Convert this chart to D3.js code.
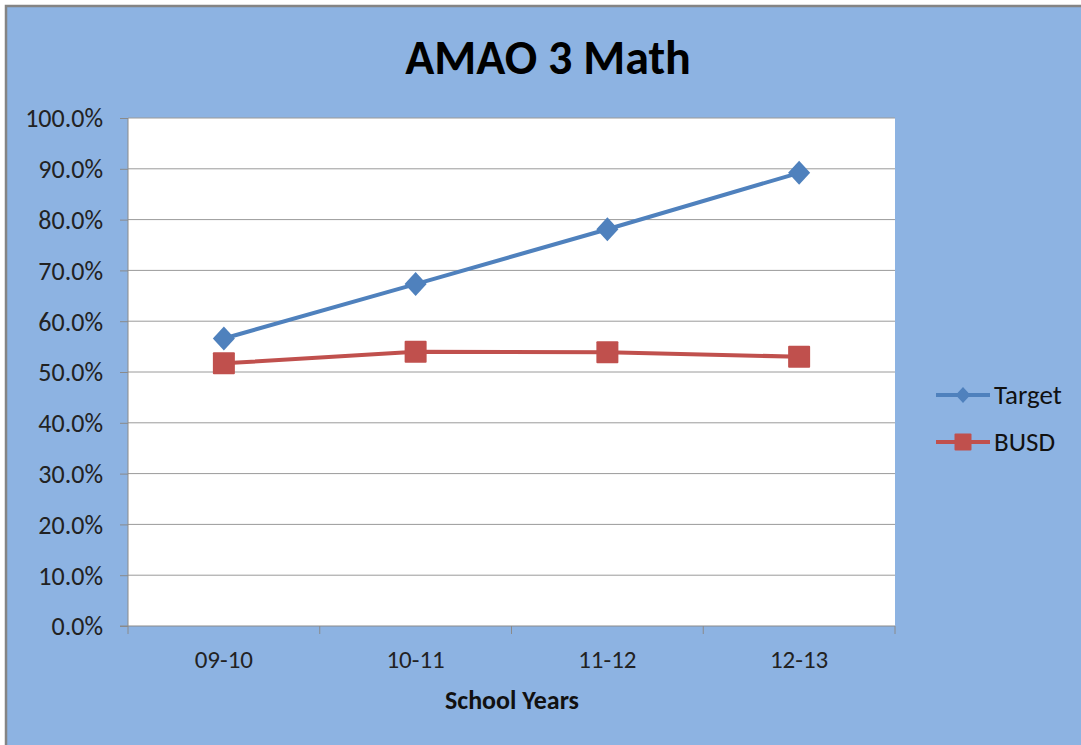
<!DOCTYPE html>
<html>
<head>
<meta charset="utf-8">
<script src="https://cdn.jsdelivr.net/npm/d3@7"></script>
<style>
  html, body { margin: 0; padding: 0; background: #ffffff; }
  svg { display: block; }
</style>
</head>
<body>
<svg id="chart" width="1081" height="745"></svg>
<script>
// School years on the category axis
const years = ["09-10", "10-11", "11-12", "12-13"];
// AMAO 3 math percentages
const targetValues = [56.6, 67.3, 78.1, 89.2];
const busdValues = [51.7, 54.0, 53.9, 53.0];
// Y-axis tick values (percent)
const yTicks = [0, 10, 20, 30, 40, 50, 60, 70, 80, 90, 100];

const seriesList = [
  { name: "Target", values: targetValues, color: "#4F81BD", marker: "diamond" },
  { name: "BUSD", values: busdValues, color: "#C0504D", marker: "square" }
];

const svg = d3.select("#chart");
const W = 1081, H = 745;
const plot = { left: 128, right: 895, top: 118, bottom: 626 };
const font = "Calibri, Carlito, Lato, 'Open Sans', sans-serif";

// Chart background with a frame on its top and left edges
svg.append("rect").attr("x", 6).attr("y", 6).attr("width", W - 6).attr("height", H - 6)
  .attr("fill", "#8DB3E2");
svg.append("path").attr("d", `M6,${H}V6H${W}`)
  .attr("fill", "none").attr("stroke", "#848484").attr("stroke-width", 2.5);

// Plot area
svg.append("rect").attr("x", plot.left).attr("y", plot.top)
  .attr("width", plot.right - plot.left).attr("height", plot.bottom - plot.top)
  .attr("fill", "#ffffff");

const x = d3.scaleBand().domain(years).range([plot.left, plot.right]).padding(0);
const y = d3.scaleLinear().domain([0, 100]).range([plot.bottom, plot.top]);

// Horizontal gridlines
svg.append("g").selectAll("line").data(yTicks.filter(d => d > 0)).join("line")
  .attr("x1", plot.left).attr("x2", plot.right)
  .attr("y1", d => y(d)).attr("y2", d => y(d))
  .attr("stroke", "#9a9a9a").attr("stroke-width", 1);

// Y axis
const yAxis = svg.append("g").attr("transform", `translate(${plot.left},0)`)
  .call(d3.axisLeft(y).tickValues(yTicks).tickSize(8).tickPadding(17)
    .tickFormat(d => d.toFixed(1) + "%"));
yAxis.attr("font-size", null).attr("font-family", null);
yAxis.select(".domain").attr("stroke", "#8a8a8a").attr("d", `M0,${plot.top}V${plot.bottom}`);
yAxis.selectAll(".tick line").attr("stroke", "#8a8a8a");
yAxis.selectAll(".tick text").attr("font-family", font).attr("font-size", 26)
  .attr("fill", "#222").attr("dy", "0.34em");

// X axis (ticks between categories)
const xAxisG = svg.append("g").attr("transform", `translate(0,${plot.bottom})`);
xAxisG.append("line").attr("x1", plot.left - 8).attr("x2", plot.right)
  .attr("stroke", "#8a8a8a");
const bounds = years.map(d => x(d)).concat([x(years[years.length - 1]) + x.bandwidth()]);
xAxisG.selectAll("line.tk").data(bounds).join("line").attr("class", "tk")
  .attr("x1", d => d).attr("x2", d => d).attr("y1", 0).attr("y2", 8)
  .attr("stroke", "#8a8a8a");
xAxisG.selectAll("text").data(years).join("text")
  .attr("x", d => x(d) + x.bandwidth() / 2).attr("y", 42)
  .attr("text-anchor", "middle").attr("font-family", font).attr("font-size", 25)
  .attr("fill", "#222").text(d => d);

// Axis title
svg.append("text").attr("x", 512).attr("y", 709).attr("text-anchor", "middle")
  .attr("font-family", font).attr("font-size", 26).attr("font-weight", "bold")
  .attr("fill", "#111").text("School Years");

// Chart title
svg.append("text").attr("x", 548).attr("y", 74).attr("text-anchor", "middle")
  .attr("font-family", font).attr("font-size", 48).attr("font-weight", "bold")
  .attr("fill", "#000").text("AMAO 3 Math");

const line = d3.line().x((d, i) => x(years[i]) + x.bandwidth() / 2).y(d => y(d));

function drawMarker(g, kind, cx, cy, color, size) {
  if (kind === "diamond") {
    const r = size;
    g.append("path")
      .attr("d", `M${cx},${cy - r}L${cx + r * 0.92},${cy}L${cx},${cy + r}L${cx - r * 0.92},${cy}Z`)
      .attr("fill", color);
  } else {
    g.append("rect").attr("x", cx - size).attr("y", cy - size)
      .attr("width", size * 2).attr("height", size * 2).attr("rx", 1).attr("fill", color);
  }
}

seriesList.forEach(s => {
  const g = svg.append("g");
  g.append("path").datum(s.values).attr("d", line)
    .attr("fill", "none").attr("stroke", s.color).attr("stroke-width", 4)
    .attr("stroke-linejoin", "round");
  s.values.forEach((v, i) => {
    drawMarker(g, s.marker, x(years[i]) + x.bandwidth() / 2, y(v), s.color,
      s.marker === "diamond" ? 12 : 11);
  });
});

// Legend
const legend = svg.append("g");
seriesList.forEach((s, i) => {
  const ly = 395 + i * 47;
  legend.append("line").attr("x1", 936).attr("x2", 990).attr("y1", ly).attr("y2", ly)
    .attr("stroke", s.color).attr("stroke-width", 4);
  drawMarker(legend, s.marker, 963, ly, s.color, s.marker === "diamond" ? 8 : 8.5);
  legend.append("text").attr("x", 994).attr("y", ly).attr("dy", "0.35em")
    .attr("font-family", font).attr("font-size", 27).attr("fill", "#111").text(s.name);
});
</script>
</body>
</html>
